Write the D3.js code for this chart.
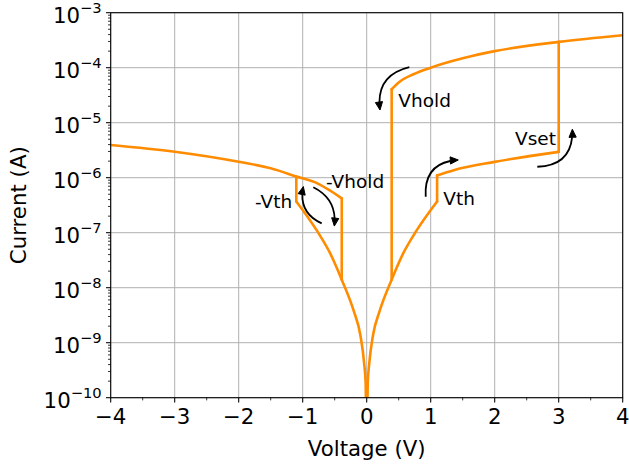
<!DOCTYPE html>
<html>
<head>
<meta charset="utf-8">
<script src="https://cdn.jsdelivr.net/npm/d3@7"></script>
<style>
  html, body { margin: 0; padding: 0; background: #fff; }
  svg { display: block; font-family: "DejaVu Sans", sans-serif; }
</style>
</head>
<body>
<svg id="chart" width="629" height="466"></svg>
<script>
// ---------------- DATA ----------------
// Off branch, positive sweep (V, A)
const lowV = [0, 0.016, 0.04, 0.1, 0.2, 0.39, 0.57, 0.78, 1.1];
const lowI = [1e-11, 1.8e-10, 4.2e-10, 1.4e-9, 3.7e-9, 1.4e-8, 4.2e-8, 1.1e-7, 3.7e-7];
// Threshold-on branch (after Vth, before Vset)
const midV = [1.1, 1.36, 2.0, 3.0];
const midI = [1.1e-6, 1.37e-6, 1.94e-6, 2.95e-6];
// Set (high current) branch
const highV = [0.39, 0.52, 0.73, 1.0, 1.5, 2.0, 3.0, 4.0];
const highI = [4.05e-5, 5.6e-5, 7.6e-5, 1.0e-4, 1.48e-4, 2.0e-4, 2.95e-4, 3.9e-4];
// Negative sweep: on branch
const negHighV = [-4, -3, -2, -1.5, -1.1, -0.77, -0.57, -0.39];
const negHighI = [3.94e-6, 2.97e-6, 1.95e-6, 1.48e-6, 1.05e-6, 7.9e-7, 5.8e-7, 4.2e-7];
// Negative sweep: off branch
const negLowV = [-1.1, -0.78, -0.57, -0.39, -0.2, -0.1, -0.04, -0.016, 0];
const negLowI = [3.7e-7, 1.1e-7, 4.2e-8, 1.4e-8, 3.7e-9, 1.4e-9, 4.2e-10, 1.8e-10, 1e-11];

const vHold = 0.39, vTh = 1.1, vSet = 3.0, negVHold = -0.39, negVth = -1.1;

const xTicks = [-4, -3, -2, -1, 0, 1, 2, 3, 4];
const yTickExps = [-10, -9, -8, -7, -6, -5, -4, -3];

// annotation labels: [text, V, I] (left-baseline anchor)
const labels = [
  ["-Vth", -1.745, 2.81e-7],
  ["-Vhold", -0.636, 6.37e-7],
  ["Vhold", 0.494, 1.95e-5],
  ["Vth", 1.197, 3.19e-7],
  ["Vset", 2.317, 3.94e-6]
];
// curved arrows: [fromV, fromI, toV, toI, rad]
const arrows = [
  [-0.703, 1.48e-7, -0.99, 6.9e-7, -0.4],
  [-0.834, 6.7e-7, -0.506, 1.32e-7, -0.35],
  [0.666, 1.02e-4, 0.208, 1.7e-5, 0.45],
  [0.922, 4.5e-7, 1.431, 2.1e-6, -0.5],
  [2.666, 1.58e-6, 3.213, 7.6e-6, 0.5]
];

// ---------------- LAYOUT ----------------
const L = 110.7, R = 622.7, T = 12.7, B = 397.7;
const orange = "#ff8c00";
const svg = d3.select("#chart");

const x = d3.scaleLinear().domain([-4, 4]).range([L, R]);
const y = d3.scaleLog().domain([1e-10, 1e-3]).range([B, T]);

svg.append("defs").append("clipPath").attr("id", "clip")
  .append("rect").attr("x", L).attr("y", T).attr("width", R - L).attr("height", B - T);

// grid
const grid = svg.append("g").attr("stroke", "#b0b0b0").attr("stroke-width", 1);
xTicks.forEach(v => grid.append("line").attr("x1", x(v)).attr("x2", x(v)).attr("y1", T).attr("y2", B));
yTickExps.forEach(e => grid.append("line").attr("x1", L).attr("x2", R).attr("y1", y(Math.pow(10, e))).attr("y2", y(Math.pow(10, e))));

// curves
const zip = (vs, is) => vs.map((v, i) => [v, is[i]]);
const smooth = d3.line().x(d => x(d[0])).y(d => y(d[1])).curve(d3.curveMonotoneX);
const straight = d3.line().x(d => x(d[0])).y(d => y(d[1]));
const at = (vs, is, v) => is[vs.indexOf(v)];

const branches = [zip(lowV, lowI), zip(midV, midI), zip(highV, highI), zip(negHighV, negHighI), zip(negLowV, negLowI)];
const jumps = [
  [[vTh, at(lowV, lowI, vTh)], [vTh, at(midV, midI, vTh)]],
  [[vSet, at(midV, midI, vSet)], [vSet, at(highV, highI, vSet)]],
  [[vHold, at(highV, highI, vHold)], [vHold, at(lowV, lowI, vHold)]],
  [[negVth, at(negLowV, negLowI, negVth)], [negVth, at(negHighV, negHighI, negVth)]],
  [[negVHold, at(negHighV, negHighI, negVHold)], [negVHold, at(negLowV, negLowI, negVHold)]]
];
const cg = svg.append("g").attr("clip-path", "url(#clip)").attr("fill", "none")
  .attr("stroke", orange).attr("stroke-width", 2.6).attr("stroke-linejoin", "round").attr("stroke-linecap", "round");
branches.forEach(p => cg.append("path").attr("d", smooth(p)));
jumps.forEach(p => cg.append("path").attr("d", straight(p)));

// arrows
const ag = svg.append("g");
const qb = (p0, c, p2, t) => [(1-t)*(1-t)*p0[0] + 2*(1-t)*t*c[0] + t*t*p2[0], (1-t)*(1-t)*p0[1] + 2*(1-t)*t*c[1] + t*t*p2[1]];
arrows.forEach(a => {
  const p0 = [x(a[0]), y(a[1])], p2 = [x(a[2]), y(a[3])], rad = a[4];
  const mx = (p0[0] + p2[0]) / 2, my = (p0[1] + p2[1]) / 2;
  const dx = p2[0] - p0[0], dy = p2[1] - p0[1];
  const c = [mx - rad * dy, my + rad * dx];
  const hl = 8, hw = 3.6;
  let len = 0, prev = p0;
  for (let i = 1; i <= 20; i++) { const pt = qb(p0, c, p2, i / 20); len += Math.hypot(pt[0]-prev[0], pt[1]-prev[1]); prev = pt; }
  const t = 1 - (hl - 1) / len;
  const c1 = [p0[0] + t*(c[0]-p0[0]), p0[1] + t*(c[1]-p0[1])];
  const e1 = qb(p0, c, p2, t);
  ag.append("path").attr("d", `M${p0[0]},${p0[1]} Q${c1[0]},${c1[1]} ${e1[0]},${e1[1]}`)
    .attr("fill", "none").attr("stroke", "#000").attr("stroke-width", 1.8);
  let ux = p2[0] - c[0], uy = p2[1] - c[1];
  const n = Math.hypot(ux, uy); ux /= n; uy /= n;
  const bx = p2[0] - ux * hl, by = p2[1] - uy * hl;
  ag.append("path").attr("d", `M${p2[0]},${p2[1]} L${bx - uy*hw},${by + ux*hw} L${bx + uy*hw},${by - ux*hw} Z`)
    .attr("fill", "#000").attr("stroke", "#000").attr("stroke-width", 1).attr("stroke-linejoin", "miter");
});

// labels
labels.forEach(l => svg.append("text").attr("x", x(l[1])).attr("y", y(l[2]))
  .attr("font-size", 18.5).attr("fill", "#000").text(l[0]));

// spines
svg.append("rect").attr("x", L).attr("y", T).attr("width", R - L).attr("height", B - T)
  .attr("fill", "none").attr("stroke", "#000").attr("stroke-width", 1.07);

// ticks
const tg = svg.append("g").attr("stroke", "#000");
xTicks.forEach(v => tg.append("line").attr("x1", x(v)).attr("x2", x(v)).attr("y1", B).attr("y2", B + 4.7).attr("stroke-width", 1.07));
d3.range(-3.5, 4, 1).forEach(v => tg.append("line").attr("x1", x(v)).attr("x2", x(v)).attr("y1", B).attr("y2", B + 2.7).attr("stroke-width", 0.8));
yTickExps.forEach(e => tg.append("line").attr("x1", L - 4.7).attr("x2", L).attr("y1", y(Math.pow(10, e))).attr("y2", y(Math.pow(10, e))).attr("stroke-width", 1.07));
yTickExps.slice(0, -1).forEach(e => {
  for (let k = 2; k <= 9; k++) {
    const yy = y(k * Math.pow(10, e));
    tg.append("line").attr("x1", L - 2.7).attr("x2", L).attr("y1", yy).attr("y2", yy).attr("stroke-width", 0.8);
  }
});

// tick labels
const fmtX = v => (v < 0 ? "\u2212" + Math.abs(v) : String(v));
xTicks.forEach(v => svg.append("text").attr("x", x(v)).attr("y", B + 26.6)
  .attr("text-anchor", "middle").attr("font-size", 21.3).attr("fill", "#000").text(fmtX(v)));
yTickExps.forEach(e => {
  const t = svg.append("text").attr("x", L - 9).attr("y", y(Math.pow(10, e)) + 10)
    .attr("text-anchor", "end").attr("font-size", 21.3).attr("fill", "#000");
  t.append("tspan").text("10");
  t.append("tspan").attr("dy", -10).attr("font-size", 14.7).text("\u2212" + Math.abs(e));
});

// axis titles
svg.append("text").attr("x", (L + R) / 2).attr("y", 456).attr("text-anchor", "middle")
  .attr("font-size", 21.3).attr("fill", "#000").text("Voltage (V)");
svg.append("text").attr("transform", `translate(25.5,${(T + B) / 2}) rotate(-90)`)
  .attr("text-anchor", "middle").attr("font-size", 21.3).attr("fill", "#000").text("Current (A)");
</script>
</body>
</html>
